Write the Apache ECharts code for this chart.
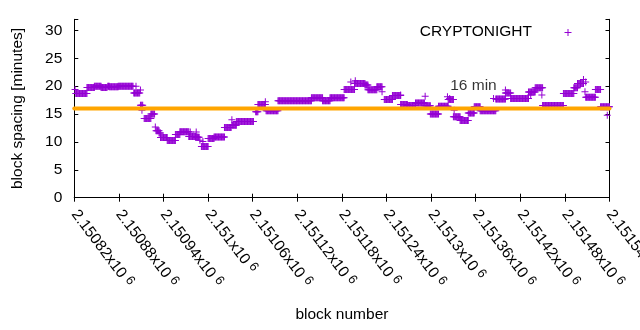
<!DOCTYPE html>
<html>
<head>
<meta charset="utf-8">
<script src="https://cdn.jsdelivr.net/npm/echarts@6/dist/echarts.min.js"></script>
<style>
html,body{margin:0;padding:0;background:#fff;}
#chart{width:640px;height:330px;}
</style>
</head>
<body>
<div id="chart"></div>
<script>
// ---- data ----
const BLOCK0 = 2150820;      // first block on the x axis
const BLOCK1 = 2151540;      // last block on the x axis
const xTickStep = 60;
const yTicks = [0, 5, 10, 15, 20, 25, 30];
const seriesName = 'CRYPTONIGHT';
const refValue = 16;
const refLabel = '16 min';
const refLabelAt = [2151357, 20];

// runs of constant block spacing: start offset, end offset (blocks from BLOCK0), minutes
const runFrom = [2,17,27,36,45,47,59,80,89,94,103,110,114,116,125,136,142,154,163,171,180,188,202,212,218,244,247,258,274,319,334,344,363,377,391,395,407,417,428,439,448,459,472,479,490,503,510,519,530,538,546,567,580,587,611,620,630,658,672,677,688,701,708];
const runTo   = [17,27,36,44,47,59,79,88,92,103,107,114,116,125,136,142,154,163,168,180,188,202,211,218,241,247,257,274,319,334,344,363,377,391,395,407,414,428,439,448,459,471,479,490,503,510,519,530,538,546,567,580,587,611,620,630,658,672,677,685,701,708,720];
const runVal  = [18.7,19.75,20.0,19.75,20.0,19.9,20.0,18.8,16.6,14.2,15.0,12.0,11.6,10.8,10.25,11.35,11.85,11.0,10.85,9.2,10.6,10.9,12.6,13.0,13.65,15.4,16.7,15.6,17.4,17.95,17.4,17.95,19.4,20.5,20.2,19.35,19.9,17.6,18.35,16.7,16.55,17.0,16.5,15.0,16.4,17.6,14.5,13.85,15.2,16.3,15.6,17.7,18.8,17.8,18.95,19.7,16.55,18.7,19.7,20.5,18.0,19.4,16.3];

// isolated blocks between the runs
const strayAt  = [1,83,89,91,108,109,156,164,165,169,173,212,257,372,378,414,439,472,502,505,511,564,580,614,629,685,687,688,717];
const strayVal = [19.4,20.0,19.3,15.7,15.0,12.7,11.8,11.8,10.9,10.3,10.1,14.0,17.2,20.75,21.0,19.0,18.4,18.2,18.1,17.8,15.7,17.8,19.3,18.4,18.4,21.2,19.0,20.75,14.8];

// ---- build points ----
const points = [];
for (let i = 0; i < runFrom.length; i++) {
  for (let b = runFrom[i]; b <= runTo[i]; b++) points.push([BLOCK0 + b, runVal[i]]);
}
for (let i = 0; i < strayAt.length; i++) points.push([BLOCK0 + strayAt[i], strayVal[i]]);

const PURPLE = '#9400D3';
const ORANGE = '#FFA500';
const FONT = 'Liberation Sans';
const FS = 15.5;
const plusPath = 'path://M3,0h1v3h3v1h-3v3h-1v-3h-3v-1h3z';

function xFmt(v) {
  const s = parseFloat((v / 1e6).toFixed(6)).toString();
  return s + 'x10{s|6}';
}

const chart = echarts.init(document.getElementById('chart'), null, {renderer: 'canvas'});
chart.setOption({
  animation: false,
  backgroundColor: '#fff',
  textStyle: {fontFamily: FONT},
  grid: {left: 74.3, right: 30.5, top: 19.3, bottom: 132.3, containLabel: false, outerBoundsMode: 'none'},
  xAxis: [{
    type: 'value', min: BLOCK0, max: BLOCK1, interval: xTickStep,
    position: 'bottom',
    name: 'block number', nameLocation: 'middle', nameGap: 109,
    nameTextStyle: {fontFamily: FONT, fontSize: FS, color: '#000'},
    axisLine: {show: true, lineStyle: {color: '#000', width: 1}},
    axisTick: {show: true, inside: true, length: 4, lineStyle: {color: '#000'}},
    splitLine: {show: false},
    axisLabel: {
      show: true, rotate: -53, margin: 14, fontFamily: FONT, fontSize: FS, color: '#000',
      showMinLabel: true, showMaxLabel: true, hideOverlap: false,
      formatter: xFmt,
      rich: {s: {fontFamily: FONT, fontSize: 13, color: '#000', padding: [0, 0, 6, 4]}}
    }
  }, {
    type: 'value', min: BLOCK0, max: BLOCK1, interval: xTickStep,
    position: 'top',
    axisLine: {show: true, lineStyle: {color: '#000', width: 1}},
    axisTick: {show: true, inside: true, length: 4, lineStyle: {color: '#000'}},
    axisLabel: {show: false}, splitLine: {show: false}
  }],
  yAxis: [{
    type: 'value', min: 0, max: 32, interval: 5,
    position: 'left',
    name: 'block spacing [minutes]', nameLocation: 'middle', nameGap: 49, nameRotate: 90,
    nameTextStyle: {fontFamily: FONT, fontSize: FS, color: '#000'},
    axisLine: {show: true, lineStyle: {color: '#000', width: 1}},
    axisTick: {show: true, inside: true, length: 4, lineStyle: {color: '#000'}},
    splitLine: {show: false},
    axisLabel: {
      show: true, margin: 12, fontFamily: FONT, fontSize: FS, color: '#000',
      formatter: function (v) { return yTicks.indexOf(v) >= 0 ? String(v) : ''; }
    }
  }, {
    type: 'value', min: 0, max: 32, interval: 5,
    position: 'right',
    axisLine: {show: true, lineStyle: {color: '#000', width: 1}},
    axisTick: {show: true, inside: true, length: 4, lineStyle: {color: '#000'}},
    axisLabel: {show: false}, splitLine: {show: false}
  }],
  series: [{
    name: seriesName,
    type: 'scatter',
    xAxisIndex: 0, yAxisIndex: 0,
    symbol: plusPath, symbolSize: 7,
    itemStyle: {color: PURPLE, opacity: 1},
    data: points,
    z: 2
  }, {
    name: 'ref',
    type: 'line',
    xAxisIndex: 0, yAxisIndex: 0,
    data: [[BLOCK0, refValue], [BLOCK1, refValue]],
    symbol: 'none', clip: false,
    lineStyle: {color: ORANGE, width: 4, cap: 'round'},
    z: 3
  }, {
    name: 'reflabel',
    type: 'scatter',
    xAxisIndex: 0, yAxisIndex: 0,
    data: [refLabelAt],
    symbolSize: 0,
    label: {show: true, position: 'inside', formatter: refLabel, fontFamily: FONT, fontSize: FS, color: '#000'},
    z: 4
  }],
  graphic: [{
    type: 'text', right: 640 - 532, top: 24,
    style: {text: seriesName, font: FS + 'px "' + FONT + '"', fill: '#000', textAlign: 'right'}
  }, {
    type: 'line', shape: {x1: 564.5, y1: 32.5, x2: 571.5, y2: 32.5}, style: {stroke: PURPLE, lineWidth: 1}
  }, {
    type: 'line', shape: {x1: 568, y1: 29, x2: 568, y2: 36}, style: {stroke: PURPLE, lineWidth: 1}
  }]
});
</script>
</body>
</html>
